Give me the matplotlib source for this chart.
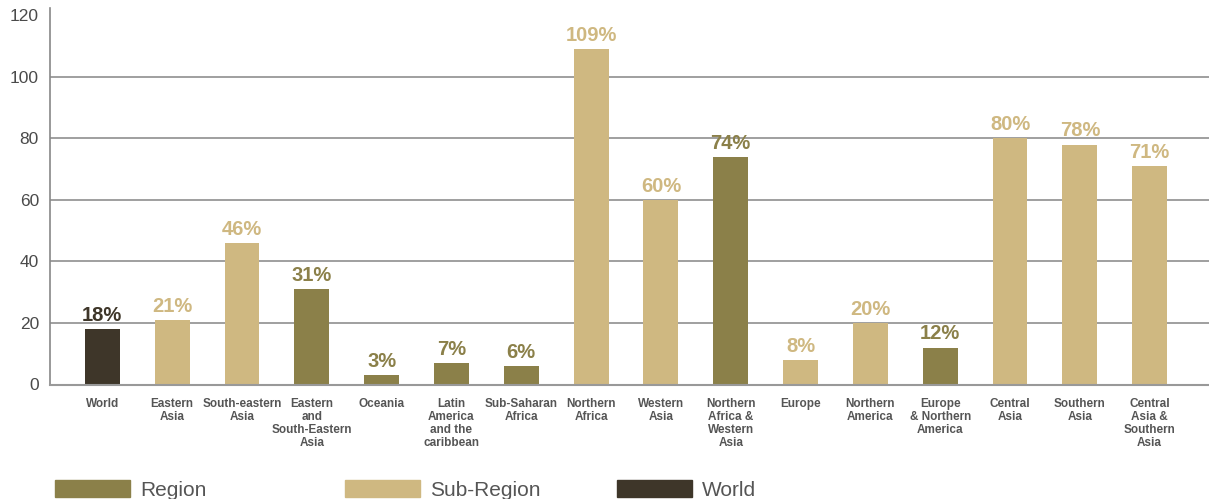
import matplotlib.pyplot as plt
from matplotlib.patches import Rectangle

plt.rcParams['font.family'] = ['Liberation Sans', 'DejaVu Sans']

categories = ['World', 'Eastern\nAsia', 'South-eastern\nAsia', 'Eastern\nand\nSouth-Eastern\nAsia',
              'Oceania', 'Latin\nAmerica\nand the\ncaribbean', 'Sub-Saharan\nAfrica', 'Northern\nAfrica',
              'Western\nAsia', 'Northern\nAfrica &\nWestern\nAsia', 'Europe', 'Northern\nAmerica',
              'Europe\n& Northern\nAmerica', 'Central\nAsia', 'Southern\nAsia', 'Central\nAsia &\nSouthern\nAsia']
values = [18, 21, 46, 31, 3, 7, 6, 109, 60, 74, 8, 20, 12, 80, 78, 71]
groups = ['World', 'Sub-Region', 'Sub-Region', 'Region', 'Region', 'Region', 'Region', 'Sub-Region',
          'Sub-Region', 'Region', 'Sub-Region', 'Sub-Region', 'Region', 'Sub-Region', 'Sub-Region', 'Sub-Region']
yticks = [0, 20, 40, 60, 80, 100, 120]

palette = {'Region': '#8b8049', 'Sub-Region': '#cfb881', 'World': '#3e3629'}

fig = plt.figure(figsize=(12.09, 4.99), dpi=100)
ax = fig.add_axes([50 / 1209, 1 - 384.5 / 499, 1 - 50 / 1209, (384.5 - 8) / 499])

x = range(len(values))
colors = [palette[g] for g in groups]
for yv in yticks[1:-1]:
    ax.axhline(yv, color='#8f8f8f', lw=1.2, zorder=0)
bars = ax.bar(x, values, width=0.5, color=colors, zorder=2)

for b, v, c in zip(bars, values, colors):
    ax.annotate(f'{v}%', (b.get_x() + b.get_width() / 2, v), xytext=(0, 3), textcoords='offset points',
                ha='center', va='bottom', fontsize=14.5, fontweight='bold', color=c)

ax.set_xlim(-0.75, 15.85)
ax.set_ylim(0, 122.4)
ax.set_yticks(yticks)
ax.set_xticks(list(x))
ax.set_xticklabels(categories, fontsize=8.5, fontweight='bold', color='#555555', linespacing=1.1, va='top')
ax.tick_params(axis='x', length=0, pad=10)
ax.tick_params(axis='y', length=0, pad=8, labelsize=12.5, labelcolor='#4a4a4a')
for s in ['top', 'right']:
    ax.spines[s].set_visible(False)
ax.spines['left'].set_color('#888888')
ax.spines['bottom'].set_color('#999999')
ax.spines['left'].set_linewidth(1.2)
ax.spines['bottom'].set_linewidth(1.5)

# legend drawn along the bottom edge
legend_items = [('Region', 55), ('Sub-Region', 345), ('World', 617)]
for name, px in legend_items:
    fig.patches.append(Rectangle((px / 1209, 1 - 497 / 499), 75 / 1209, 17 / 499,
                                 transform=fig.transFigure, color=palette[name]))
    fig.text((px + 85) / 1209, 1 - 490 / 499, name, fontsize=15, color='#555555', va='center')

fig.savefig('out.png', dpi=100)
